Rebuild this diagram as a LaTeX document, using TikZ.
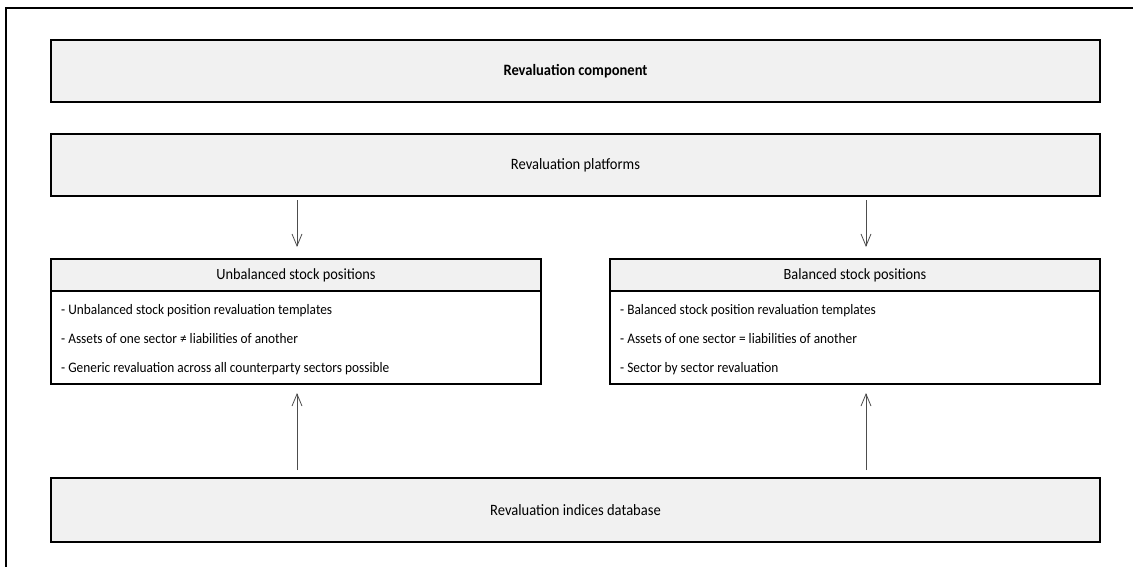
\documentclass[tikz,border=0pt]{standalone}
\usepackage{fontspec}
\setmainfont{Carlito}[FakeStretch=0.92]
\usetikzlibrary{arrows.meta}
\definecolor{boxgray}{HTML}{F1F1F1}
\definecolor{arrowgray}{HTML}{4D4D4D}

\begin{document}
\begin{tikzpicture}[x=1pt,y=-1pt,
        wide/.style={draw=black,line width=1.4pt,fill=boxgray,inner sep=0pt,outer sep=0pt,
          minimum width=1049pt,minimum height=62pt,font=\fontsize{15.8}{17}\selectfont},
        headbox/.style={draw=black,line width=1.4pt,fill=boxgray,inner sep=0pt,outer sep=0pt,
          minimum width=490pt,minimum height=32pt,font=\fontsize{15.6}{17}\selectfont},
        bodybox/.style={draw=black,line width=1.4pt,fill=white,inner sep=0pt,outer sep=0pt,
          minimum width=490pt,minimum height=93pt},
        item/.style={anchor=west,inner sep=0pt,font=\fontsize{14.5}{16}\selectfont},
        flow/.style={draw=arrowgray,line width=0.8pt,-{Straight Barb[length=12pt,width=10pt]}}]
            \useasboundingbox (0,0) rectangle (1133,567);
            \draw [black,line width=1.8pt] (6,570) -- (6,8) -- (1136,8);
            \node [wide] (comp) at (575.5,71) {\bfseries Revaluation component};
            \node [wide] (plat) at (575.5,165) {Revaluation platforms};
            \node [bodybox] (unbbody) at (296,337.5) {};
            \node [headbox] (unbhead) at (296,275) {Unbalanced stock positions};
            \node [bodybox] (balbody) at (855,337.5) {};
            \node [headbox] (balhead) at (855,275) {Balanced stock positions};
            \node [item] (unb1) at (61,311) {- Unbalanced stock position revaluation templates};
            \node [item] (unb2) at (61,339) {- Assets of one sector ≠ liabilities of another};
            \node [item] (unb3) at (61,369) {- Generic revaluation across all counterparty sectors possible};
            \node [item] (bal1) at (620,311) {- Balanced stock position revaluation templates};
            \node [item] (bal2) at (620,339) {- Assets of one sector = liabilities of another};
            \node [item] (bal3) at (620,369) {- Sector by sector revaluation};
            \node [wide,minimum height=64pt] (idx) at (575.5,510) {Revaluation indices database};
            \coordinate (lx) at (297,0);
            \coordinate (rx) at (866,0);
            \draw [flow,shorten <=4pt,shorten >=12pt] (lx |- plat.south) -- (lx |- unbhead.north);
            \draw [flow,shorten <=4pt,shorten >=12pt] (rx |- plat.south) -- (rx |- balhead.north);
            \draw [flow,shorten <=8pt,shorten >=9pt] (lx |- idx.north) -- (lx |- unbbody.south);
            \draw [flow,shorten <=8pt,shorten >=9pt] (rx |- idx.north) -- (rx |- balbody.south);
        \end{tikzpicture}
\end{document}
